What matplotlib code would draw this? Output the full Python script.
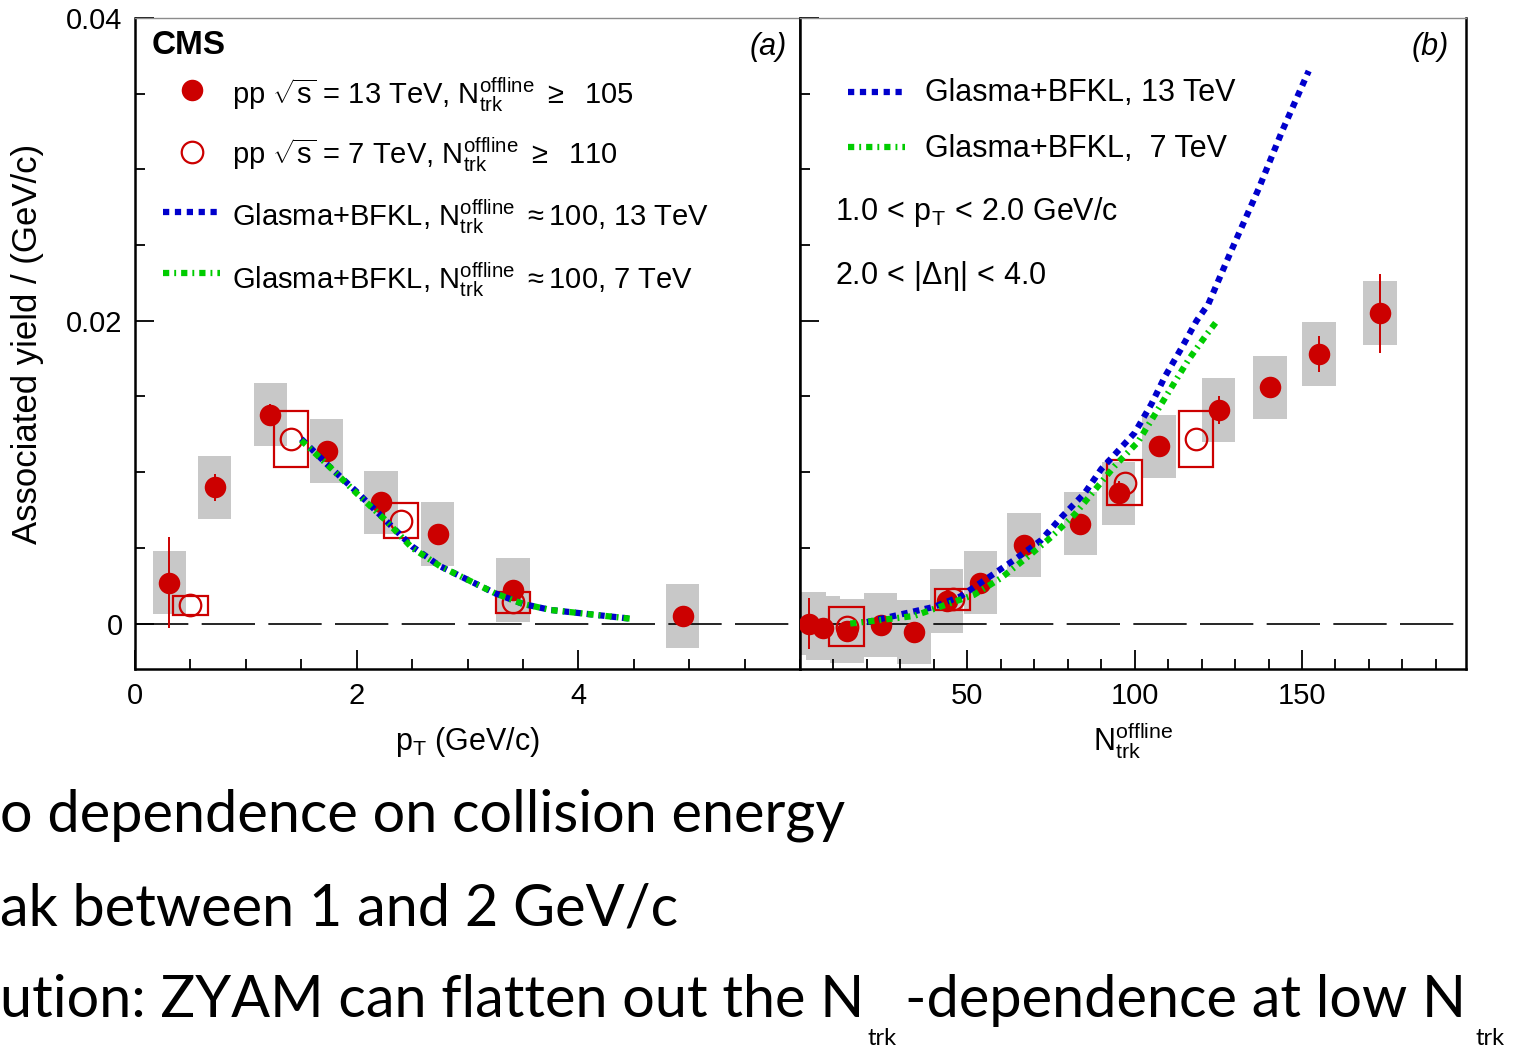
import numpy as np
import matplotlib
matplotlib.use('Agg')
import matplotlib.pyplot as plt

plt.rcParams['font.family'] = ['Liberation Sans', 'DejaVu Sans']
plt.rcParams['mathtext.fontset'] = 'custom'
plt.rcParams['mathtext.rm'] = 'Liberation Sans'
plt.rcParams['mathtext.it'] = 'Liberation Sans:italic'
plt.rcParams['mathtext.bf'] = 'Liberation Sans:bold'

# ---- panel (a): yield vs pT ----
pt13 = [0.31, 0.72, 1.22, 1.73, 2.22, 2.73, 3.41, 4.94]
y13_pt = [0.0027, 0.0090, 0.0138, 0.0114, 0.0080, 0.0059, 0.0022, 0.0005]
stat13_pt = [0.0030, 0.0009, 0.0007, 0.0006, 0.0006, 0.0006, 0.0005, 0.0003]
sys13_pt = [0.0021, 0.0021, 0.0021, 0.0021, 0.0021, 0.0021, 0.0021, 0.0021]

pt7 = [0.50, 1.41, 2.40, 3.41]
y7_pt = [0.0012, 0.0122, 0.0068, 0.0014]
sys7_pt = [0.00064, 0.00185, 0.00116, 0.0007]

th_pt = [1.5, 1.75, 2.0, 2.25, 2.5, 2.75, 3.0, 3.25, 3.5, 3.75, 4.0, 4.25, 4.5]
th13_pt = [0.0122, 0.0104, 0.0087, 0.0069, 0.0051, 0.0038, 0.0029, 0.0020, 0.0013, 0.0009, 0.0007, 0.0005, 0.0003]
th7_pt = [0.0121, 0.0104, 0.0086, 0.0069, 0.0050, 0.0038, 0.0029, 0.0020, 0.0013, 0.0009, 0.0007, 0.0005, 0.0003]

# ---- panel (b): yield vs Ntrk ----
n13 = [2.7, 6.9, 14.0, 24.1, 34.0, 43.8, 53.9, 66.9, 83.8, 95.2, 107.2, 125.1, 140.4, 155.1, 173.3]
y13_n = [0.0, -0.0003, -0.0005, -0.0001, -0.00055, 0.0015, 0.0027, 0.0052, 0.0066, 0.0086,
         0.0117, 0.0141, 0.0156, 0.0178, 0.0205]
stat13_n = [0.0017, 0.0004, 0.0004, 0.0004, 0.0004, 0.0004, 0.0004, 0.0004, 0.0004, 0.0008,
            0.0004, 0.0009, 0.0004, 0.0012, 0.0026]
sys13_n = [0.0021] * 15

n7 = [13.9, 45.6, 97.0, 118.3]
y7_n = [-0.0002, 0.0016, 0.0093, 0.0122]
sys7_n = [0.00127, 0.0007, 0.0015, 0.00183]

th13_nx = [20, 30, 40, 48, 56, 64, 72, 78, 85, 90, 100, 105, 109, 114, 118.5, 122, 129, 137, 144, 152]
th13_ny = [0.0001, 0.0006, 0.0011, 0.0018, 0.0030, 0.0042, 0.0055, 0.0070, 0.0086, 0.0102,
           0.0126, 0.0145, 0.0163, 0.0182, 0.0200, 0.0211, 0.0247, 0.0287, 0.0325, 0.0365]
th7_nx = [15, 25, 34, 43, 52, 60, 68, 75, 82, 88, 94, 101, 106, 111, 116, 121.5, 125]
th7_ny = [0.0, 0.00026, 0.0005, 0.0012, 0.0019, 0.0030, 0.0044, 0.0057, 0.0072, 0.0088,
          0.0104, 0.0120, 0.0138, 0.0156, 0.0174, 0.0191, 0.0201]

RED = '#cc0000'
BLUE = '#0000cc'
GREEN = '#00cc00'
GREY = '#c8c8c8'
blue_ls = (0, (1.0, 0.9))
green_ls = (0, (1.0, 0.8, 0.3, 0.8))

W, H = 1513, 1046
fig = plt.figure(figsize=(W / 100, H / 100), dpi=100)


def fpos(x, y):
    return x / W, 1 - y / H


axa = fig.add_axes([135 / W, 1 - 669 / H, 665 / W, 651 / H])
axb = fig.add_axes([800 / W, 1 - 669 / H, 666 / W, 651 / H])


def draw(ax, x13, y13, st13, sy13, hw13, x7, y7, sy7, hw7):
    ax.bar(x13, [2 * s for s in sy13], bottom=[y - s for y, s in zip(y13, sy13)],
           width=2 * hw13, color=GREY, zorder=1)
    ax.bar(x7, [2 * s for s in sy7], bottom=[y - s for y, s in zip(y7, sy7)],
           width=2 * hw7, facecolor='none', edgecolor=RED, lw=1.6, zorder=2)
    ax.errorbar(x13, y13, yerr=st13, fmt='o', color=RED, ms=15.5, mew=0,
                elinewidth=1.4, capsize=3, capthick=1.4, zorder=3)
    ax.plot(x7, y7, 'o', mfc='none', mec=RED, ms=15.5, mew=1.6, zorder=4)
    ax.axhline(0, color='k', lw=1.2, ls=(0, (32, 8)), zorder=1.5)


draw(axa, pt13, y13_pt, stat13_pt, sys13_pt, 0.15, pt7, y7_pt, sys7_pt, 0.155)
axa.plot(th_pt, th13_pt, color=BLUE, lw=4.5, ls=blue_ls, zorder=5)
axa.plot(th_pt, th7_pt, color=GREEN, lw=4.5, ls=green_ls, zorder=5)

draw(axb, n13, y13_n, stat13_n, sys13_n, 5.0, n7, y7_n, sys7_n, 5.2)
axb.plot(th13_nx, th13_ny, color=BLUE, lw=4.5, ls=blue_ls, zorder=5)
axb.plot(th7_nx, th7_ny, color=GREEN, lw=4.5, ls=green_ls, zorder=5)

for ax in (axa, axb):
    ax.set_ylim(-0.003, 0.04)
    ax.set_yticks([0, 0.02, 0.04])
    ax.set_yticks(np.arange(-0.0, 0.0401, 0.005), minor=True)
    ax.tick_params(which='both', direction='in', top=False, right=False,
                   width=1.3, labelsize=21, pad=9)
    ax.tick_params(which='major', length=14)
    ax.tick_params(which='minor', length=7)
    for s in ('left', 'bottom', 'right'):
        ax.spines[s].set_linewidth(1.8)
    ax.spines['top'].set_linewidth(1.0)
    ax.spines['top'].set_color('0.55')

axa.set_xlim(0, 6)
axa.set_xticks([0, 2, 4])
axa.set_xticks(np.arange(0, 6.01, 0.5), minor=True)
axa.set_yticklabels(['0', '0.02', '0.04'])
axa.set_ylabel('Associated yield / (GeV/c)', fontsize=25, labelpad=16)
axa.set_xlabel(r'p$_{\rm T}$ (GeV/c)', fontsize=22, labelpad=11)

axb.set_xlim(0, 199)
axb.set_xticks([50, 100, 150])
axb.set_xticks(np.arange(0, 199, 10), minor=True)
axb.tick_params(axis='y', labelleft=False)
axb.set_xlabel(r'N$_{\rm trk}^{\rm offline}$', fontsize=22, labelpad=8)

# panel labels
fig.text(*fpos(152, 45), 'CMS', fontsize=24, fontweight='bold', va='center', ha='left')
fig.text(*fpos(768, 47), '(a)', fontsize=22, style='italic', va='center', ha='center')
fig.text(*fpos(1430, 47), '(b)', fontsize=22, style='italic', va='center', ha='center')

# panel (a) legend
leg_rows = [
    (104, r'pp $\sqrt{\mathrm{s}}$ = 13 TeV, N$_{\rm trk}^{\rm offline}$ $\geq$  105'),
    (164, r'pp $\sqrt{\mathrm{s}}$ = 7 TeV, N$_{\rm trk}^{\rm offline}$ $\geq$  110'),
    (226, r'Glasma+BFKL, N$_{\rm trk}^{\rm offline}$ $\approx$100, 13 TeV'),
    (289, r'Glasma+BFKL, N$_{\rm trk}^{\rm offline}$ $\approx$100, 7 TeV'),
]
for yb, txt in leg_rows:
    fig.text(*fpos(232, yb), txt, fontsize=21, va='baseline', ha='left')

fig.lines.append(plt.Line2D([192 / W], [1 - 90 / H], transform=fig.transFigure,
                            marker='o', ms=15.5, color=RED, mew=0))
fig.lines.append(plt.Line2D([192 / W], [1 - 152 / H], transform=fig.transFigure,
                            marker='o', ms=15.5, mfc='none', mec=RED, mew=1.6))
fig.lines.append(plt.Line2D([163 / W, 220 / W], [1 - 212 / H] * 2, transform=fig.transFigure,
                            color=BLUE, lw=4.5, ls=blue_ls))
fig.lines.append(plt.Line2D([163 / W, 220 / W], [1 - 273 / H] * 2, transform=fig.transFigure,
                            color=GREEN, lw=4.5, ls=green_ls))

# panel (b) legend and cuts
fig.lines.append(plt.Line2D([848 / W, 905 / W], [1 - 92 / H] * 2, transform=fig.transFigure,
                            color=BLUE, lw=4.5, ls=blue_ls))
fig.lines.append(plt.Line2D([848 / W, 905 / W], [1 - 147 / H] * 2, transform=fig.transFigure,
                            color=GREEN, lw=4.5, ls=green_ls))
fig.text(*fpos(925, 101), 'Glasma+BFKL, 13 TeV', fontsize=22, va='baseline', ha='left')
fig.text(*fpos(925, 157), 'Glasma+BFKL,  7 TeV', fontsize=22, va='baseline', ha='left')
fig.text(*fpos(835, 220), r'1.0$\,<\,$p$_{\rm T}$$\,<\,$2.0 GeV/c', fontsize=22, va='baseline', ha='left')
fig.text(*fpos(835, 284), r'2.0$\,<\,$|$\Delta\mathrm{\eta}$|$\,<\,$4.0', fontsize=22, va='baseline', ha='left')

# slide text below the figure (left part cut off in the slide)
slide_font = ['Lato', 'DejaVu Sans']
fs = 41.5
fig.text(*fpos(0, 832), 'o dependence on collision energy', fontsize=fs,
         family=slide_font, ha='left', va='baseline')
fig.text(*fpos(0, 925), 'ak between 1 and 2 GeV/c', fontsize=fs,
         family=slide_font, ha='left', va='baseline')
fig.text(*fpos(0, 1017), 'ution: ZYAM can flatten out the N', fontsize=fs,
         family=slide_font, ha='left', va='baseline')
fig.text(*fpos(868, 1045), 'trk', fontsize=17, family=slide_font, ha='left', va='baseline')
fig.text(*fpos(905, 1017), '-dependence at low N', fontsize=fs,
         family=slide_font, ha='left', va='baseline')
fig.text(*fpos(1476, 1045), 'trk', fontsize=17, family=slide_font, ha='left', va='baseline')

fig.savefig('out.png', dpi=100)
